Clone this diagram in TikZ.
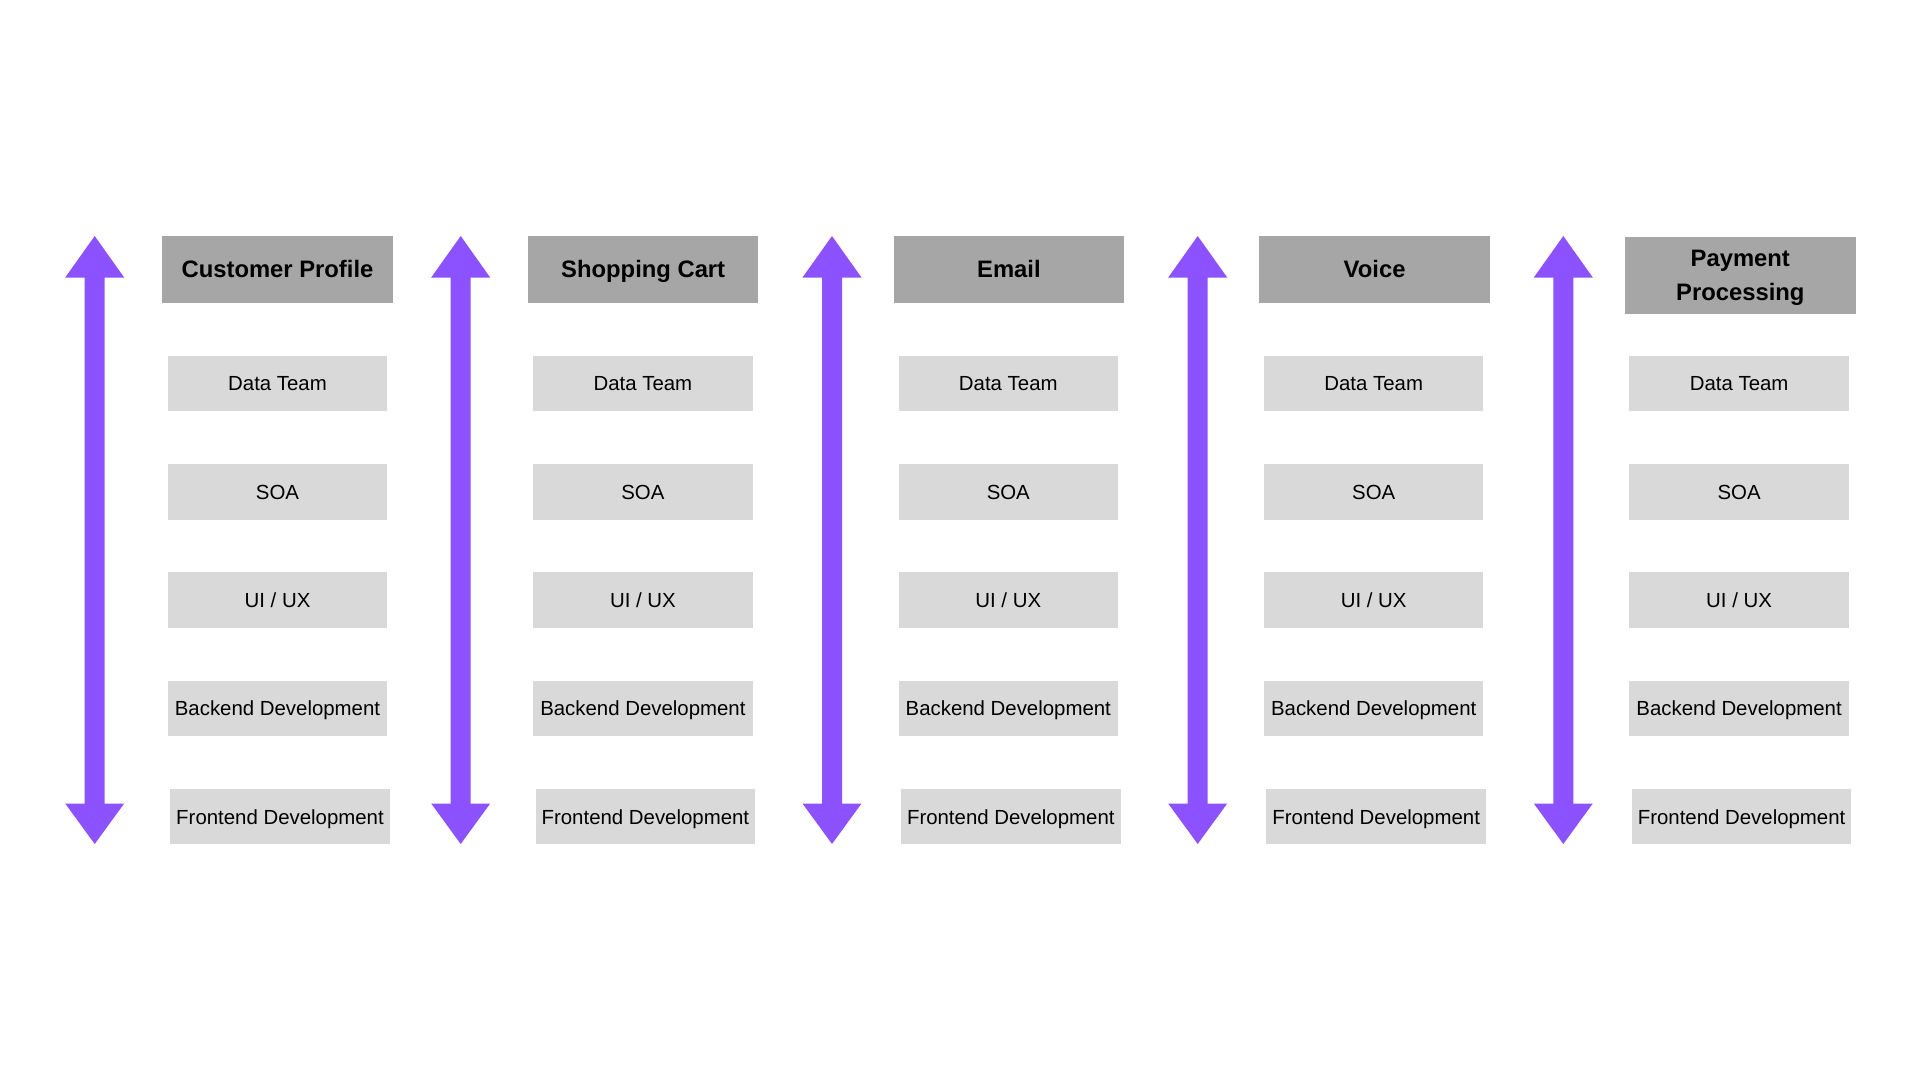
\documentclass[tikz,border=0pt]{standalone}
\usepackage{fontspec}
\setmainfont{Liberation Sans}
\definecolor{headgray}{HTML}{A6A6A6}
\definecolor{teamgray}{HTML}{D9D9D9}
\definecolor{arrowpurple}{HTML}{8C52FF}
\tikzset{
  head/.style={fill=headgray, inner sep=0pt, minimum width=230.5pt, minimum height=66.5pt,
    align=center, font=\fontsize{23.8}{34.5}\selectfont\bfseries},
  oneline/.style={text height=17pt, text depth=0pt},
  team/.style={fill=teamgray, inner sep=0pt, minimum width=219.5pt, minimum height=55.5pt,
    font=\fontsize{20.4}{24}\selectfont, text height=14.6pt, text depth=0pt},
  bigarrow/.style={fill=arrowpurple}
}
\begin{document}
\begin{tikzpicture}[x=1pt, y=-1pt]

    \useasboundingbox (0,0) rectangle (1920,1080);

    % double arrows between the columns
    \foreach \ax in {94.7, 460.7, 832, 1197.7, 1563.3}
      \fill[bigarrow] (\ax,236) -- (\ax+29.5,277.5) -- (\ax+10,277.5) -- (\ax+10,803.5)
        -- (\ax+29.5,803.5) -- (\ax,844) -- (\ax-29.5,803.5) -- (\ax-10,803.5)
        -- (\ax-10,277.5) -- (\ax-29.5,277.5) -- cycle;

    % column titles
    \node[head, oneline] (head0) at (277.5, 269.3) {Customer Profile};
    \node[head, oneline] (head1) at (643.2, 269.3) {Shopping Cart};
    \node[head, oneline] (head2) at (1008.9, 269.3) {Email};
    \node[head, oneline] (head3) at (1374.6, 269.3) {Voice};
    \node[head, minimum height=76.7pt, text depth=0pt] (head4) at (1740.3, 275.5) {Payment\\Processing};

    % teams in each column
    \foreach \col in {0,...,4} {
      \pgfmathsetmacro\cx{277.5+365.4*\col}
      \node[team] (data\col) at (\cx, 383.5) {Data Team};
      \node[team] (soa\col) at (\cx, 491.8) {SOA};
      \node[team] (ui\col) at (\cx, 600) {UI / UX};
      \node[team] (back\col) at (\cx, 708.3) {Backend Development};
      \node[team] (front\col) at (\cx+2.5, 816.7) {Frontend Development};
    }

\end{tikzpicture}
\end{document}
